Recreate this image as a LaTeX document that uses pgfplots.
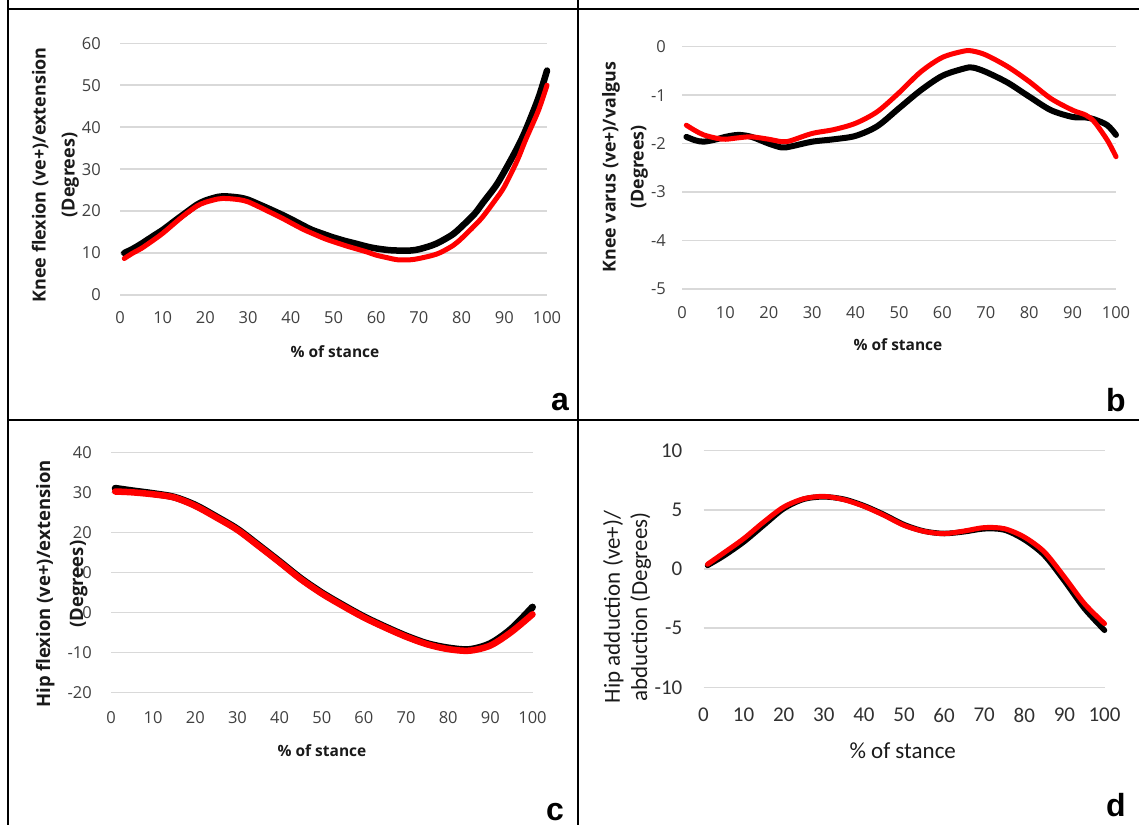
\documentclass[border=0pt]{standalone}
\usepackage{fontspec}
\setmainfont{Open Sans}
\newfontfamily\calib{Carlito}
\newfontfamily\arialf{Liberation Sans}
\usepackage{pgfplots}
\pgfplotsset{compat=1.18}
\definecolor{gridc}{HTML}{D9D9D9}
\definecolor{tickc}{HTML}{404040}
\definecolor{redc}{HTML}{FF0000}
\definecolor{labc}{HTML}{1A1A1A}
\pgfplotsset{
  panel/.style={
    scale only axis, xmin=0, xmax=100,
    axis line style={draw=none}, major tick style={draw=none},
    ymajorgrids, grid style={gridc, line width=1.5pt},
    xtick={0,10,...,100},
    /pgf/number format/assume math mode=true,
    ticklabel style={text=tickc, font=\fontsize{16.5}{19}\selectfont, inner sep=0pt},
    label style={text=labc},
    xlabel style={font=\fontsize{15.5}{19}\selectfont\bfseries, anchor=center},
    ylabel style={font=\fontsize{18}{29}\selectfont\bfseries, anchor=center, align=center},
    clip=false,
  },
  blk/.style={black, line width=6.5pt, smooth, line join=round, line cap=round},
  rd/.style={redc, line width=5pt, smooth, line join=round, line cap=round},
}
\tikzset{letter/.style={font=\arialf\bfseries\fontsize{32}{36}\selectfont, inner sep=0pt}}
\begin{document}
\begin{tikzpicture}
\path[use as bounding box] (0,0) rectangle (1139pt,825pt);
% borders
\draw[black, line width=2pt] (8pt,815.5pt) -- (1139pt,815.5pt);
\draw[black, line width=2pt] (8pt,405pt) -- (1139pt,405pt);
\draw[black, line width=2pt] (8pt,825pt) -- (8pt,0pt);
\draw[black, line width=2pt] (578pt,825pt) -- (578pt,0pt);

% ---------- panel a ----------
\begin{axis}[panel, at={(120pt,530pt)}, anchor=south west,
  width=427pt, height=251.7pt, ymin=0, ymax=60, ytick={0,10,...,60},
  xticklabel style={anchor=center, yshift=-23pt},
  yticklabel style={anchor=east, xshift=-19pt},
  xlabel={\% of stance}, xlabel style={at={(axis description cs:0.5035,-0.2265)}},
  ylabel={Knee flexion (ve+)/extension\\(Degrees)},
  ylabel style={at={(axis description cs:-0.151,0.4768)}}]
\addplot[blk] coordinates {(1,10.0)(3,11.0)(5,12.2)(8,14.2)(10,15.5)(13,17.8)(15,19.3)(18,21.5)(20,22.5)(23,23.4)(25,23.5)(28,23.2)(30,22.7)(33,21.4)(35,20.5)(38,19.1)(40,18.1)(43,16.5)(45,15.5)(48,14.4)(50,13.7)(53,12.8)(55,12.3)(58,11.5)(60,11.1)(63,10.7)(65,10.6)(68,10.6)(70,10.9)(73,11.8)(75,12.7)(78,14.5)(80,16.3)(83,19.3)(85,22.0)(88,26.0)(90,29.4)(93,35.0)(95,39.3)(98,47.0)(100,53.5)};
\addplot[rd] coordinates {(1,8.7)(3,10.0)(5,11.1)(8,13.2)(10,14.7)(13,17.3)(15,19.0)(18,21.2)(20,22.1)(23,22.9)(25,23.0)(28,22.7)(30,22.2)(33,20.8)(35,19.8)(38,18.3)(40,17.2)(43,15.6)(45,14.7)(48,13.4)(50,12.7)(53,11.7)(55,11.1)(58,10.2)(60,9.5)(63,8.8)(65,8.4)(68,8.4)(70,8.7)(73,9.4)(75,10.1)(78,11.8)(80,13.5)(83,16.5)(85,18.7)(88,22.8)(90,25.8)(93,32.0)(95,37.0)(98,44.0)(100,50.0)};
\end{axis}

% ---------- panel b ----------
\begin{axis}[panel, at={(682pt,536pt)}, anchor=south west,
  width=434pt, height=242.3pt, ymin=-5, ymax=0, ytick={-5,-4,...,0},
  xticklabel style={anchor=center, yshift=-24pt},
  yticklabel style={anchor=east, xshift=-16pt},
  xlabel={\% of stance}, xlabel style={at={(axis description cs:0.4977,-0.2311)}},
  ylabel={Knee varus (ve+)/valgus\\(Degrees)},
  ylabel style={font=\fontsize{17.8}{28}\selectfont\bfseries, at={(axis description cs:-0.1313,0.5035)}}]
\addplot[blk, line width=6pt] coordinates {(1,-1.86)(3,-1.93)(5,-1.96)(8,-1.91)(10,-1.86)(13,-1.82)(16,-1.86)(20,-2.0)(23,-2.08)(25,-2.06)(30,-1.96)(35,-1.91)(40,-1.84)(45,-1.64)(50,-1.27)(55,-0.9)(60,-0.6)(65,-0.45)(67,-0.43)(70,-0.52)(75,-0.74)(80,-1.03)(85,-1.31)(90,-1.45)(93,-1.46)(95,-1.5)(98,-1.62)(100,-1.82)};
\addplot[rd] coordinates {(1,-1.62)(3,-1.73)(5,-1.82)(8,-1.89)(10,-1.91)(13,-1.88)(16,-1.86)(20,-1.91)(23,-1.96)(25,-1.94)(30,-1.79)(35,-1.71)(40,-1.58)(45,-1.34)(50,-0.95)(55,-0.52)(60,-0.22)(65,-0.09)(67,-0.09)(70,-0.17)(75,-0.41)(80,-0.72)(85,-1.07)(90,-1.31)(93,-1.41)(95,-1.55)(98,-1.93)(100,-2.27)};
\end{axis}

% ---------- panel c ----------
\begin{axis}[panel, at={(111pt,132.7pt)}, anchor=south west,
  width=421.5pt, height=240pt, ymin=-20, ymax=40, ytick={-20,-10,...,40},
  xticklabel style={anchor=center, yshift=-25.7pt},
  yticklabel style={anchor=east, xshift=-19pt},
  xlabel={\% of stance}, xlabel style={at={(axis description cs:0.5006,-0.2433)}},
  ylabel={Hip flexion (ve+)/extension\\(Degrees)},
  ylabel style={font=\fontsize{18.5}{33}\selectfont\bfseries, at={(axis description cs:-0.117,0.451)}}]
\addplot[blk, line width=7pt] coordinates {(1,31.0)(5,30.4)(10,29.7)(15,28.8)(20,26.8)(25,23.9)(30,20.8)(35,16.8)(40,12.7)(45,8.5)(50,4.9)(55,1.8)(60,-1.1)(65,-3.6)(70,-5.9)(75,-7.8)(80,-8.9)(85,-9.3)(90,-7.8)(95,-4.1)(100,1.3)};
\addplot[rd, line width=6.5pt] coordinates {(1,30.2)(5,30.0)(10,29.5)(15,28.7)(20,26.6)(25,23.7)(30,20.6)(35,16.6)(40,12.5)(45,8.3)(50,4.7)(55,1.6)(60,-1.3)(65,-3.8)(70,-6.1)(75,-8.0)(80,-9.2)(85,-9.6)(90,-8.3)(95,-4.9)(100,-0.5)};
\end{axis}

% ---------- panel d ----------
\begin{axis}[panel, at={(703.5pt,137.7pt)}, anchor=south west,
  width=401pt, height=236.6pt, ymin=-10, ymax=10, ytick={-10,-5,...,10},
  ticklabel style={text=labc!90, font=\calib\fontsize{21}{24}\selectfont},
  xticklabel style={anchor=center, yshift=-27.7pt},
  yticklabel style={anchor=east, xshift=-21pt},
  xlabel={\% of stance}, xlabel style={font=\calib\fontsize{23}{26}\selectfont, at={(axis description cs:0.4968,-0.268)}},
  ylabel={Hip adduction (ve+)/\\abduction (Degrees)},
  ylabel style={font=\calib\fontsize{23}{27.3}\selectfont, at={(axis description cs:-0.1908,0.3394)}}]
\addplot[blk, line width=5.5pt] coordinates {(1,0.3)(5,1.1)(10,2.28)(15,3.7)(20,5.1)(25,5.9)(30,6.1)(35,5.9)(40,5.35)(45,4.6)(50,3.75)(55,3.2)(60,3.0)(65,3.15)(70,3.4)(75,3.3)(80,2.48)(85,1.15)(90,-1.01)(95,-3.35)(100,-5.18)};
\addplot[rd, line width=5pt] coordinates {(1,0.4)(5,1.35)(10,2.56)(15,3.97)(20,5.24)(25,5.94)(30,6.14)(35,5.86)(40,5.3)(45,4.54)(50,3.69)(55,3.18)(60,2.99)(65,3.21)(70,3.5)(75,3.41)(80,2.7)(85,1.44)(90,-0.68)(95,-2.93)(100,-4.62)};
\end{axis}

% panel letters
\node[letter] at (560pt,423pt) {a};
\node[letter] at (1116pt,425pt) {b};
\node[letter] at (555pt,13pt) {c};
\node[letter] at (1116pt,20pt) {d};
\end{tikzpicture}
\end{document}
